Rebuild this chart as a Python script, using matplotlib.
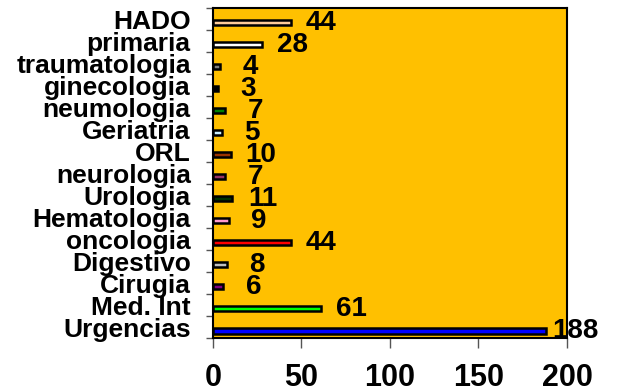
import matplotlib
matplotlib.use("Agg")
import matplotlib.pyplot as plt
import numpy as np

# services listed bottom to top, as drawn on the y axis
services = ["Urgencias", "Med. Int", "Cirugia", "Digestivo", "oncologia",
            "Hematologia", "Urologia", "neurologia", "ORL", "Geriatria",
            "neumologia", "ginecologia", "traumatologia", "primaria", "HADO"]
counts = [188, 61, 6, 8, 44, 9, 11, 7, 10, 5, 7, 3, 4, 28, 44]
bar_colors = ["#0000FF", "#00FF00", "#800080", "#C0C0C0", "#FF0000",
              "#FF99CC", "#003300", "#993366", "#993300", "#CCF0FF",
              "#008000", "#000000", "#808080", "#FFFFFF", "#FFCC99"]
x_ticks = [0, 50, 100, 150, 200]

plt.rcParams["font.family"] = ["Liberation Sans", "DejaVu Sans"]
plt.rcParams["font.weight"] = "bold"

fig = plt.figure(figsize=(6.17, 3.92), dpi=100, facecolor="white")
ax = fig.add_axes([0.345, 0.138, 0.574, 0.842])
ax.set_facecolor("#FFC000")

slot = np.arange(len(services))
bar_y = slot + 0.33
ax.barh(bar_y, counts, height=0.26, color=bar_colors,
        edgecolor="black", linewidth=1.8, zorder=2)

for y, value in zip(bar_y, counts):
    ax.text(value + 17, y, str(value), ha="center", va="center",
            fontsize=20, fontweight="bold", color="black", zorder=3)

ax.set_xlim(0, 200)
ax.set_ylim(0, len(services))

ax.set_xticks(x_ticks)
ax.set_xticklabels([str(t) for t in x_ticks], fontsize=22, fontweight="bold")
ax.tick_params(axis="x", length=7, width=1, color="#555555", pad=11)

# category names sit just above the bars; tick marks go on the slot boundaries
ax.set_yticks(bar_y + 0.13)
ax.set_yticklabels(services, fontsize=19, fontweight="bold")
ax.tick_params(axis="y", which="major", length=0, pad=16)
ax.set_yticks(np.arange(len(services) + 1), minor=True)
ax.tick_params(axis="y", which="minor", length=5, width=1, color="#555555")

for spine in ax.spines.values():
    spine.set_linewidth(1.5)
    spine.set_color("black")

fig.savefig("out.png", dpi=100, facecolor="white")
